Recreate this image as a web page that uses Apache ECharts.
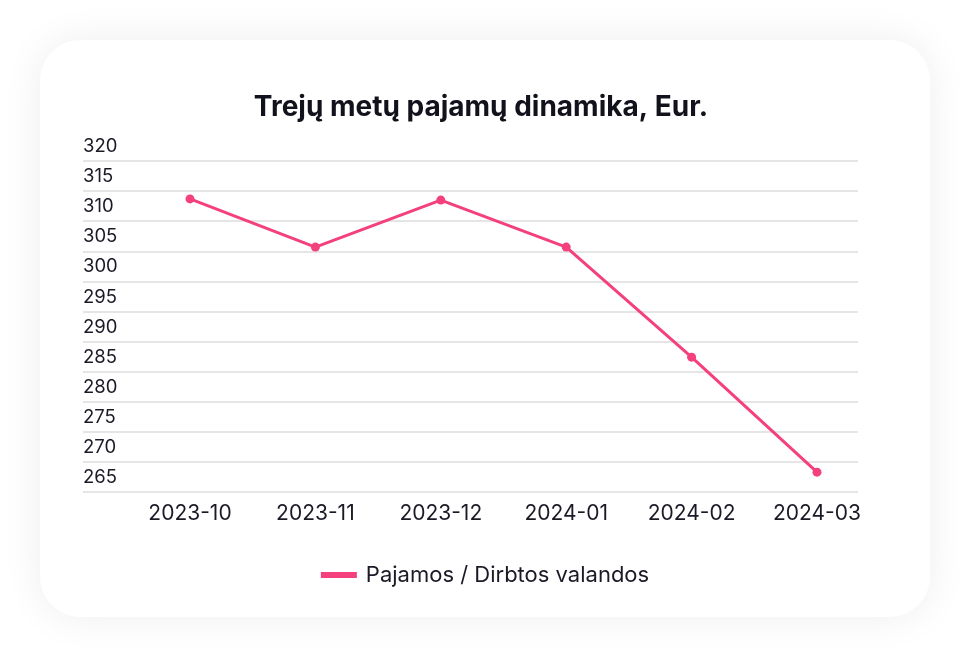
<!DOCTYPE html>
<html><head><meta charset="utf-8">
<script src="https://cdn.jsdelivr.net/npm/echarts@6/dist/echarts.min.js"></script>
<style>html,body{margin:0;padding:0;background:#fff}#c{width:970px;height:657px}</style>
</head><body><div id="c"></div>
<script>
const titleText = 'Trejų metų pajamų dinamika, Eur.';
const categories = ['2023-10','2023-11','2023-12','2024-01','2024-02','2024-03'];
const seriesName = 'Pajamos / Dirbtos valandos';
const values = [313.7, 305.7, 313.5, 305.7, 287.4, 268.3];
const yMin = 265, yMax = 320, yStep = 5;

const chart = echarts.init(document.getElementById('c'));
const font = 'Inter, "Noto Sans", sans-serif';
chart.setOption({
  backgroundColor: '#ffffff',
  graphic: [{
    type: 'rect', z: -10, silent: true,
    shape: {x: 40, y: 40, width: 890, height: 577, r: 40},
    style: {fill: '#fff', shadowBlur: 40, shadowColor: 'rgba(0,0,0,0.07)'}
  }],
  title: {
    text: titleText, left: 476, textAlign: 'center', top: 89,
    textStyle: {fontFamily: font, fontSize: 28, fontWeight: 'bold', color: '#12121c'}
  },
  legend: {
    bottom: 66, left: 'center', itemWidth: 36, itemHeight: 6, itemGap: 10,
    icon: 'rect',
    textStyle: {fontFamily: font, fontSize: 22, color: '#1a1a26', padding: [0, 0, 0, 4]},
    data: [{name: seriesName, icon: 'rect'}]
  },
  grid: [
    {left: 190, right: 153, top: 161, bottom: 165},
    {left: 83, right: 112, top: 161, bottom: 165}
  ],
  xAxis: [
    {gridIndex: 0, type: 'category', data: categories, boundaryGap: false,
     axisLine: {show: false}, axisTick: {show: false},
     axisLabel: {margin: 11, fontFamily: font, fontSize: 21, color: '#1a1a26'}},
    {gridIndex: 1, type: 'category', data: categories, show: false}
  ],
  yAxis: [
    {gridIndex: 0, type: 'value', min: yMin, max: yMax, interval: yStep, show: false},
    {gridIndex: 1, type: 'value', min: yMin, max: yMax, interval: yStep,
     axisLine: {show: false}, axisTick: {show: false},
     splitLine: {show: true, lineStyle: {color: '#dcdcdc', width: 1.5}},
     axisLabel: {inside: true, align: 'left', verticalAlign: 'bottom', margin: 0,
       padding: [0, 0, 5, 0],
       fontFamily: font, fontSize: 18.5, color: '#1a1a26'}}
  ],
  series: [{
    name: seriesName, type: 'line', xAxisIndex: 0, yAxisIndex: 0,
    data: values, color: '#f4407c',
    lineStyle: {width: 3, color: '#f4407c'},
    symbol: 'circle', symbolSize: 9,
    itemStyle: {color: '#f4407c'},
    animation: false
  }],
  animation: false
});
</script></body></html>
